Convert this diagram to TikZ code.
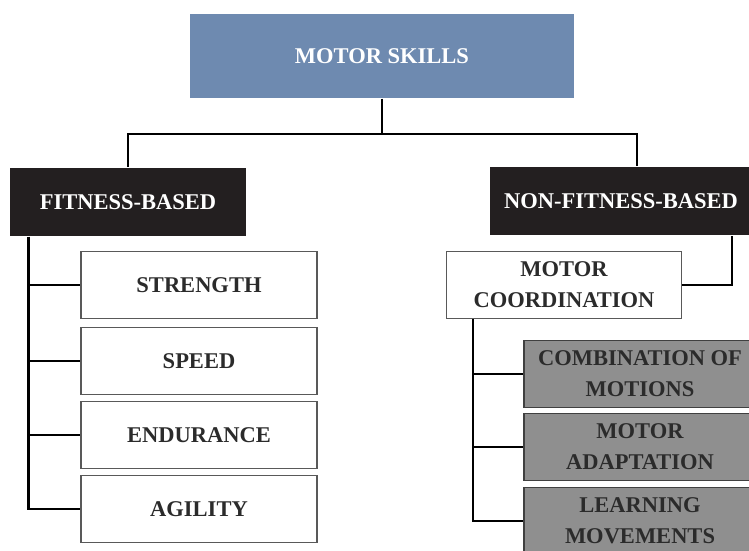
\documentclass[tikz,border=0pt]{standalone}
\usepackage{fontspec}
\setmainfont{Liberation Serif}
\definecolor{skillblue}{HTML}{6E8AB0}
\definecolor{groupblack}{HTML}{231F20}
\definecolor{subgray}{HTML}{8F8F8F}
\definecolor{textdark}{HTML}{2B2B2B}
\begin{document}
\begin{tikzpicture}
    [x=1pt,y=-1pt,line width=2.3pt,
     box/.style={draw=black!65,line width=1.2pt,minimum width=236pt,minimum height=67pt,
                 inner sep=1pt,align=center,text=textdark,
                 font=\fontsize{22.5}{31}\selectfont\bfseries},
     head/.style={box,draw=none,fill=skillblue,text=white,minimum width=384pt,minimum height=84pt},
     group/.style={box,draw=none,fill=groupblack,text=white,minimum height=68pt},
     item/.style={box,fill=white},
     sub/.style={box,fill=subgray,draw=black!75,minimum width=232pt}]

    \useasboundingbox (0,0) rectangle (749,550);

    \node[head] (S) at (382,56) {MOTOR SKILLS};
    \node[group] (F) at (128,202) {FITNESS-BASED};
    \node[group,minimum width=262pt] (N) at (621,201) {NON-FITNESS-BASED};

    \foreach \name/\y/\text in {1/285/STRENGTH, 2/361/SPEED, 3/435/ENDURANCE, 4/509/AGILITY}
      \node[item] (F-\name) at (199,\y) {\text};

    \node[item,minimum width=235pt] (C) at (564,285) {MOTOR\\COORDINATION};

    \foreach \name/\y/\text in {1/374/COMBINATION OF\\MOTIONS, 2/447/MOTOR\\ADAPTATION, 3/521/LEARNING\\MOVEMENTS}
      \node[sub] (N-\name) at (640,\y) {\text};

    % top split
    \coordinate (hub) at (382,134);
    \draw (S) -- (hub);
    \draw (hub) -| (F);
    \draw (hub) -| ([xshift=16pt]N.north);

    % left list
    \coordinate (F-spine) at ([xshift=19pt]F.south west);
    \draw (F-spine) |- (F-4.west);
    \foreach \name in {1,2,3}
      \draw (F-spine |- F-\name.west) -- (F-\name.west);

    % right list
    \draw (C.east) -| ([xshift=111pt]N.south);
    \coordinate (C-spine) at ([xshift=27pt]C.south west);
    \draw (C-spine) |- (N-3.west);
    \foreach \name in {1,2}
      \draw (C-spine |- N-\name.west) -- (N-\name.west);
  \end{tikzpicture}
\end{document}
